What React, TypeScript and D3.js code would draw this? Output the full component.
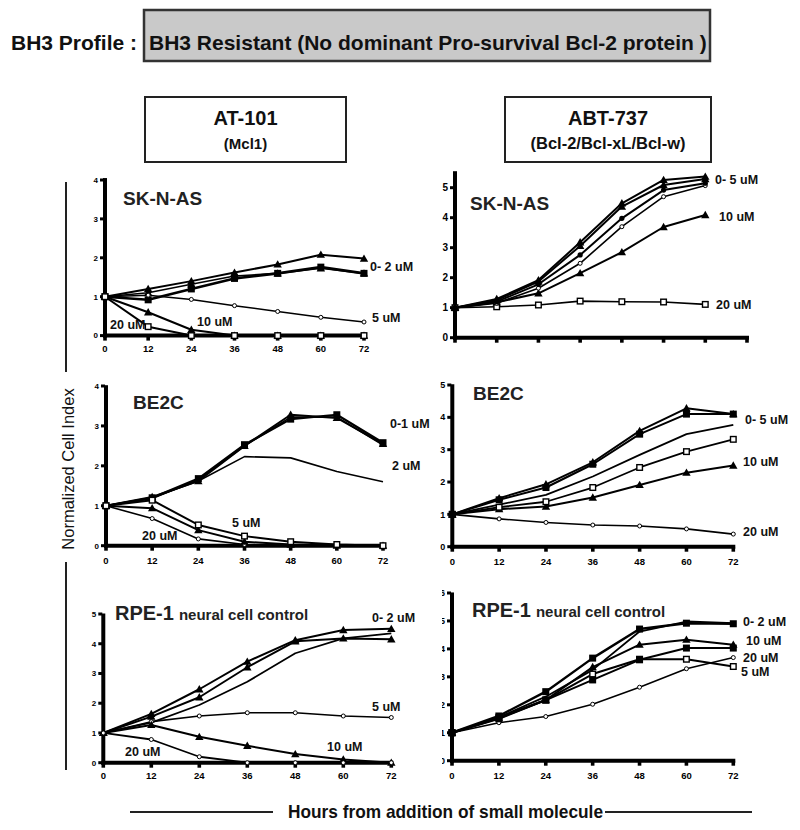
import React from 'react';
import * as d3 from 'd3';

const hours = [0, 12, 24, 36, 48, 60, 72];

// AT-101, SK-N-AS
const tl0a = [1, 1.2, 1.4, 1.62, 1.83, 2.08, 1.98];
const tl0b = [1, 0.92, 1.2, 1.47, 1.6, 1.76, 1.6];
const tl0c = [1, 1.1, 1.32, 1.53, 1.6, 1.73, 1.6];
const tl5 = [1, 1.04, 0.93, 0.77, 0.62, 0.47, 0.35];
const tl10 = [1, 0.6, 0.15, 0, 0, 0, 0];
const tl20 = [1, 0.23, 0, 0, 0, 0, 0];

// ABT-737, SK-N-AS
const tr0a = [1, 1.29, 1.92, 3.18, 4.48, 5.26, 5.37];
const tr0b = [1, 1.25, 1.87, 3.06, 4.37, 5.09, 5.29];
const tr0c = [1, 1.2, 1.78, 2.76, 3.98, 4.92, 5.15];
const tr0d = [1, 1.15, 1.65, 2.48, 3.7, 4.7, 5.07];
const tr10 = [1, 1.18, 1.48, 2.15, 2.85, 3.69, 4.09];
const tr20 = [1, 1.03, 1.09, 1.22, 1.2, 1.19, 1.11];

// AT-101, BE2C
const ml0a = [1, 1.22, 1.62, 2.5, 3.28, 3.2, 2.55];
const ml0b = [1, 1.2, 1.68, 2.53, 3.17, 3.28, 2.58];
const ml0c = [1, 1.18, 1.65, 2.5, 3.22, 3.22, 2.52];
const ml2 = [1, 1.2, 1.62, 2.23, 2.2, 1.86, 1.6];
const ml5 = [1, 1.14, 0.52, 0.24, 0.1, 0.03, 0];
const ml10 = [1, 0.94, 0.39, 0.1, 0.03, 0, 0];
const ml20 = [1, 0.68, 0.17, 0.03, 0, 0, 0];

// ABT-737, BE2C
const mr0a = [1, 1.5, 1.93, 2.61, 3.58, 4.28, 4.1];
const mr0b = [1, 1.45, 1.83, 2.55, 3.48, 4.1, 4.1];
const mr0c = [1, 1.3, 1.6, 2.17, 2.84, 3.48, 3.77];
const mr5 = [1, 1.22, 1.39, 1.83, 2.45, 2.94, 3.32];
const mr10 = [1, 1.16, 1.24, 1.52, 1.91, 2.29, 2.51];
const mr20 = [1, 0.86, 0.75, 0.67, 0.64, 0.55, 0.39];

// AT-101, RPE-1
const bl0a = [1, 1.64, 2.47, 3.4, 4.12, 4.46, 4.5];
const bl0b = [1, 1.55, 2.2, 3.21, 4.08, 4.18, 4.15];
const bl0c = [1, 1.35, 1.94, 2.72, 3.68, 4.18, 4.35];
const bl5 = [1, 1.38, 1.57, 1.68, 1.68, 1.57, 1.52];
const bl10 = [1, 1.27, 0.87, 0.57, 0.29, 0.11, 0];
const bl20 = [1, 0.78, 0.2, 0, 0, 0, 0];

// ABT-737, RPE-1
const br0a = [1, 1.6, 2.47, 3.67, 4.71, 4.92, 4.9];
const br0b = [1, 1.55, 2.29, 3.25, 4.62, 4.98, 4.92];
const br10 = [1, 1.52, 2.17, 3.35, 4.15, 4.33, 4.15];
const br10b = [1, 1.5, 2.17, 2.89, 3.61, 4.03, 4.03];
const br5 = [1, 1.55, 2.17, 3.1, 3.63, 3.63, 3.37];
const br20 = [1, 1.36, 1.58, 2.02, 2.63, 3.29, 3.69];

const xTickVals = [0, 12, 24, 36, 48, 60, 72];
const xTickValsLong = [0, 12, 24, 36, 48, 60, 72, 84];

type Marker = 'tri' | 'sq' | 'osq' | 'oci' | 'dot' | 'none';
interface Series { values: number[]; marker: Marker; w: number }
interface Lbl { text: string; x: number; y: number }
interface Panel {
  title: string; sub?: string; titleSize: number; titleX: number; titleY: number;
  left: number; right: number; xMax: number; xTicks: number[]; xLabels: boolean; xLabelY: number;
  y0: number; yTopPx: number; yTopVal: number; yTicks: number[]; yAxisMax: number; clipY?: boolean;
  yLabelSize: number;
  series: Series[]; labels: Lbl[];
}

const FONT = "'Liberation Sans', Arial, Helvetica, sans-serif";

const panels: Panel[] = [
  {
    title: 'SK-N-AS', titleSize: 19, titleX: 123, titleY: 205,
    left: 105, right: 364, xMax: 72, xTicks: xTickVals, xLabels: true, xLabelY: 349,
    y0: 335.6, yTopPx: 180, yTopVal: 4, yTicks: [0, 1, 2, 3, 4], yAxisMax: 4.05, yLabelSize: 8,
    series: [
      { values: tl0c, marker: 'tri', w: 1.6 },
      { values: tl0b, marker: 'sq', w: 2.6 },
      { values: tl0a, marker: 'tri', w: 2 },
      { values: tl5, marker: 'oci', w: 1.5 },
      { values: tl10, marker: 'tri', w: 2 },
      { values: tl20, marker: 'osq', w: 2 },
    ],
    labels: [
      { text: '0- 2 uM', x: 370, y: 267 },
      { text: '5 uM', x: 372, y: 318 },
      { text: '10 uM', x: 197, y: 322 },
      { text: '20 uM', x: 110, y: 325 },
    ],
  },
  {
    title: 'SK-N-AS', titleSize: 19, titleX: 470, titleY: 210,
    left: 455, right: 747, xMax: 84, xTicks: xTickValsLong, xLabels: false, xLabelY: 0,
    y0: 337.7, yTopPx: 187.7, yTopVal: 5, yTicks: [0, 1, 2, 3, 4, 5], yAxisMax: 5.55, yLabelSize: 10,
    series: [
      { values: tr20, marker: 'osq', w: 1.6 },
      { values: tr10, marker: 'tri', w: 2 },
      { values: tr0d, marker: 'oci', w: 1.6 },
      { values: tr0c, marker: 'dot', w: 2 },
      { values: tr0b, marker: 'tri', w: 2 },
      { values: tr0a, marker: 'tri', w: 2 },
    ],
    labels: [
      { text: '0- 5 uM', x: 715, y: 180 },
      { text: '10 uM', x: 719, y: 217 },
      { text: '20 uM', x: 716, y: 305 },
    ],
  },
  {
    title: 'BE2C', titleSize: 19, titleX: 133, titleY: 409,
    left: 106, right: 383, xMax: 72, xTicks: xTickVals, xLabels: true, xLabelY: 561,
    y0: 545.7, yTopPx: 386, yTopVal: 4, yTicks: [0, 1, 2, 3, 4], yAxisMax: 4.02, yLabelSize: 8,
    series: [
      { values: ml2, marker: 'none', w: 1.6 },
      { values: ml0c, marker: 'none', w: 1.6 },
      { values: ml0a, marker: 'tri', w: 2 },
      { values: ml0b, marker: 'sq', w: 2.2 },
      { values: ml20, marker: 'oci', w: 1.6 },
      { values: ml10, marker: 'tri', w: 2 },
      { values: ml5, marker: 'osq', w: 2 },
    ],
    labels: [
      { text: '0-1 uM', x: 390, y: 424 },
      { text: '2 uM', x: 392, y: 466 },
      { text: '5 uM', x: 232, y: 523 },
      { text: '20 uM', x: 142, y: 536 },
    ],
  },
  {
    title: 'BE2C', titleSize: 19, titleX: 473, titleY: 400,
    left: 452.3, right: 733.3, xMax: 72, xTicks: xTickVals, xLabels: true, xLabelY: 562,
    y0: 546.7, yTopPx: 385, yTopVal: 5, yTicks: [0, 1, 2, 3, 4, 5], yAxisMax: 5.02, yLabelSize: 9,
    series: [
      { values: mr20, marker: 'oci', w: 1.6 },
      { values: mr10, marker: 'tri', w: 2 },
      { values: mr5, marker: 'osq', w: 1.8 },
      { values: mr0c, marker: 'none', w: 1.8 },
      { values: mr0b, marker: 'sq', w: 2 },
      { values: mr0a, marker: 'tri', w: 2 },
    ],
    labels: [
      { text: '0- 5 uM', x: 745, y: 420 },
      { text: '10 uM', x: 743, y: 462 },
      { text: '20 uM', x: 743, y: 532 },
    ],
  },
  {
    title: 'RPE-1', sub: 'neural cell control', titleSize: 20, titleX: 115, titleY: 620,
    left: 103.3, right: 391.3, xMax: 72, xTicks: xTickVals, xLabels: true, xLabelY: 776,
    y0: 762.7, yTopPx: 614, yTopVal: 5, yTicks: [0, 1, 2, 3, 4, 5], yAxisMax: 5.02, yLabelSize: 8,
    series: [
      { values: bl0c, marker: 'none', w: 1.8 },
      { values: bl0b, marker: 'tri', w: 2 },
      { values: bl0a, marker: 'tri', w: 2 },
      { values: bl5, marker: 'oci', w: 1.6 },
      { values: bl10, marker: 'tri', w: 2 },
      { values: bl20, marker: 'oci', w: 1.8 },
    ],
    labels: [
      { text: '0- 2 uM', x: 372, y: 618 },
      { text: '5 uM', x: 372, y: 707 },
      { text: '10 uM', x: 327, y: 747 },
      { text: '20 uM', x: 125, y: 752 },
    ],
  },
  {
    title: 'RPE-1', sub: 'neural cell control', titleSize: 20, titleX: 472, titleY: 617,
    left: 452, right: 733.3, xMax: 72, xTicks: xTickVals, xLabels: true, xLabelY: 776,
    y0: 760.7, yTopPx: 593, yTopVal: 6, yTicks: [0, 1, 2, 3, 4, 5, 6], yAxisMax: 6.02, clipY: true, yLabelSize: 9,
    series: [
      { values: br20, marker: 'oci', w: 1.6 },
      { values: br5, marker: 'osq', w: 2 },
      { values: br10b, marker: 'sq', w: 2 },
      { values: br10, marker: 'tri', w: 2 },
      { values: br0b, marker: 'none', w: 1.8 },
      { values: br0a, marker: 'sq', w: 2.4 },
    ],
    labels: [
      { text: '0- 2 uM', x: 743, y: 622 },
      { text: '10 uM', x: 746, y: 641 },
      { text: '20 uM', x: 743, y: 658 },
      { text: '5 uM', x: 741, y: 672 },
    ],
  },
];

function MarkerShape({ m, cx, cy }: { m: Marker; cx: number; cy: number }) {
  if (m === 'tri') {
    const s = 4.2;
    return <path d={`M${cx},${cy - s}L${cx + s},${cy + s * 0.75}L${cx - s},${cy + s * 0.75}Z`} fill="#000" />;
  }
  if (m === 'sq') return <rect x={cx - 3.5} y={cy - 3.5} width={7} height={7} fill="#000" />;
  if (m === 'osq') return <rect x={cx - 2.8} y={cy - 2.8} width={5.6} height={5.6} fill="#fff" stroke="#000" strokeWidth={1.4} />;
  if (m === 'oci') return <circle cx={cx} cy={cy} r={2} fill="#fff" stroke="#000" strokeWidth={1} />;
  if (m === 'dot') return <circle cx={cx} cy={cy} r={2.6} fill="#000" />;
  return null;
}

function PanelView({ p, idx }: { p: Panel; idx: number }) {
  const x = d3.scaleLinear().domain([0, p.xMax]).range([p.left, p.right]);
  const y = d3.scaleLinear().domain([0, p.yTopVal]).range([p.y0, p.yTopPx]);
  const line = d3.line<number>().x((_, i) => x(hours[i])).y((v) => y(v));
  const clipId = `yclip${idx}`;
  return (
    <g>
      {p.clipY && (
        <defs>
          <clipPath id={clipId}>
            <rect x={p.left - 10} y={y(p.yAxisMax) - 10} width={5} height={p.y0 - y(p.yAxisMax) + 20} />
          </clipPath>
        </defs>
      )}
      <line x1={x(0)} x2={x(0)} y1={y(p.yAxisMax)} y2={p.y0 + 2} stroke="#000" strokeWidth={4} />
      <line x1={x(0) - 2} x2={x(p.xTicks[p.xTicks.length - 1]) + 2} y1={p.y0} y2={p.y0} stroke="#000" strokeWidth={4} />
      {p.yTicks.map((t) => (
        <rect key={'yt' + t} x={x(0) - 5} y={y(t) - 1.5} width={4} height={3} fill="#000" />
      ))}
      {p.xTicks.map((t) => (
        <rect key={'xt' + t} x={x(t) - 1.8} y={p.y0} width={3.6} height={5} fill="#000" />
      ))}
      <g clipPath={p.clipY ? `url(#${clipId})` : undefined}>
        {p.yTicks.map((t) => (
          <text key={'yl' + t} x={x(0) - 7} y={y(t)} dy="0.35em" textAnchor="end" fontSize={p.yLabelSize} fontWeight="bold" fontFamily={FONT}>
            {t}
          </text>
        ))}
      </g>
      {p.xLabels &&
        p.xTicks.map((t) => (
          <text key={'xl' + t} x={x(t)} y={p.xLabelY} dy="0.35em" textAnchor="middle" fontSize={9.5} fontWeight="bold" fontFamily={FONT}>
            {t}
          </text>
        ))}
      {p.series.map((s, i) => (
        <path key={'s' + i} d={line(s.values) || ''} fill="none" stroke="#000" strokeWidth={s.w} strokeLinejoin="round" />
      ))}
      {p.series.map((s, i) => (
        <g key={'m' + i}>
          {s.values.map((v, j) => (
            <MarkerShape key={j} m={s.marker} cx={x(hours[j])} cy={y(v)} />
          ))}
        </g>
      ))}
      <text x={p.titleX} y={p.titleY} fontSize={p.titleSize} fontWeight="bold" fontFamily={FONT} fill="#222">
        {p.title}
        {p.sub && (
          <tspan fontSize={15} dx={5}>
            {p.sub}
          </tspan>
        )}
      </text>
      {p.labels.map((l, i) => (
        <text key={'l' + i} x={l.x} y={l.y} dy="0.35em" fontSize={12.5} fontWeight="bold" fontFamily={FONT} fill="#111">
          {l.text}
        </text>
      ))}
    </g>
  );
}

export default function App() {
  return (
    <svg width={800} height={830} style={{ position: 'absolute', left: 0, top: 0, background: '#fff' }}>
      <rect x={0} y={0} width={800} height={830} fill="#fff" />
      <text x={11} y={50} fontSize={21} fontWeight="bold" fontFamily={FONT} fill="#111">BH3 Profile :</text>
      <rect x={144} y={10} width={566} height={51} fill="#c9c9c9" stroke="#333" strokeWidth={2.5} />
      <text x={149} y={50} fontSize={21} fontWeight="bold" fontFamily={FONT} fill="#111">
        BH3 Resistant (No dominant Pro-survival Bcl-2 protein )
      </text>
      <rect x={145} y={97} width={201} height={65} fill="#fff" stroke="#222" strokeWidth={2} />
      <text x={245.5} y={125} textAnchor="middle" fontSize={20} fontWeight="bold" fontFamily={FONT} fill="#111">AT-101</text>
      <text x={245.5} y={149} textAnchor="middle" fontSize={15} fontWeight="bold" fontFamily={FONT} fill="#111">(Mcl1)</text>
      <rect x={505} y={97} width={206} height={65} fill="#fff" stroke="#222" strokeWidth={2} />
      <text x={608} y={125} textAnchor="middle" fontSize={20} fontWeight="bold" fontFamily={FONT} fill="#111">ABT-737</text>
      <text x={608} y={149} textAnchor="middle" fontSize={16.5} fontWeight="bold" fontFamily={FONT} fill="#111">(Bcl-2/Bcl-xL/Bcl-w)</text>
      <line x1={66} x2={66} y1={182} y2={372} stroke="#222" strokeWidth={2} />
      <line x1={66} x2={66} y1={562} y2={770} stroke="#222" strokeWidth={2} />
      <text transform="translate(74,469) rotate(-90)" textAnchor="middle" fontSize={16.5} fontFamily={FONT} fill="#111">
        Normalized Cell Index
      </text>
      {panels.map((p, i) => (
        <PanelView key={i} p={p} idx={i} />
      ))}
      <line x1={130} x2={273} y1={812} y2={812} stroke="#222" strokeWidth={2} />
      <line x1={605} x2={752} y1={812} y2={812} stroke="#222" strokeWidth={2} />
      <text x={288} y={818} fontSize={19} fontWeight="bold" fontFamily={FONT} fill="#111" textLength={315} lengthAdjust="spacingAndGlyphs">
        Hours from addition of small molecule
      </text>
    </svg>
  );
}
